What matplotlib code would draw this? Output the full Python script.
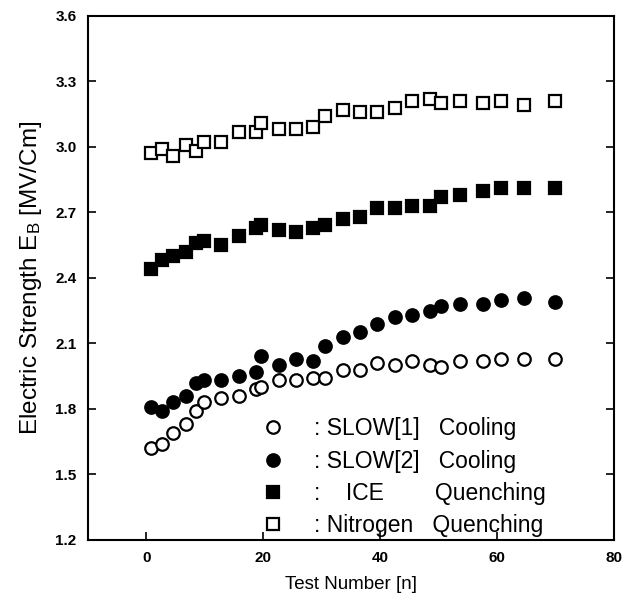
import matplotlib
matplotlib.use('Agg')
import matplotlib.pyplot as plt

plt.rcParams['font.family'] = ['Liberation Sans', 'DejaVu Sans']
plt.rcParams['mathtext.default'] = 'regular'

# Test numbers (shared by all four series)
test_n = [0.8, 2.7, 4.6, 6.8, 8.6, 9.8, 12.8, 15.8, 18.8, 19.7, 22.8, 25.6, 28.5,
          30.6, 33.6, 36.5, 39.5, 42.5, 45.5, 48.5, 50.5, 53.6, 57.6, 60.7, 64.7, 70.0]

slow1 = [1.62, 1.64, 1.69, 1.73, 1.79, 1.83, 1.85, 1.86, 1.89, 1.90, 1.93, 1.93, 1.94,
         1.94, 1.98, 1.98, 2.01, 2.00, 2.02, 2.00, 1.99, 2.02, 2.02, 2.03, 2.03, 2.03]
slow2 = [1.81, 1.79, 1.83, 1.86, 1.92, 1.93, 1.93, 1.95, 1.97, 2.04, 2.00, 2.03, 2.02,
         2.09, 2.13, 2.15, 2.19, 2.22, 2.23, 2.25, 2.27, 2.28, 2.28, 2.30, 2.31, 2.29]
ice = [2.44, 2.48, 2.50, 2.52, 2.56, 2.57, 2.55, 2.59, 2.63, 2.64, 2.62, 2.61, 2.63,
       2.64, 2.67, 2.68, 2.72, 2.72, 2.73, 2.73, 2.77, 2.78, 2.80, 2.81, 2.81, 2.81]
nitrogen = [2.97, 2.99, 2.96, 3.01, 2.98, 3.02, 3.02, 3.07, 3.07, 3.11, 3.08, 3.08, 3.09,
            3.14, 3.17, 3.16, 3.16, 3.18, 3.21, 3.22, 3.20, 3.21, 3.20, 3.21, 3.19, 3.21]

labels = [': SLOW[1]   Cooling', ': SLOW[2]   Cooling',
          ':    ICE        Quenching', ': Nitrogen   Quenching']

fig = plt.figure(figsize=(6.27, 6.08), dpi=100)
ax = fig.add_axes([0.140, 0.112, 0.839, 0.862])

mk = dict(linestyle='none', markersize=9, markeredgewidth=1.6, markeredgecolor='black')
ax.plot(test_n, slow1, marker='o', markerfacecolor='white', label=labels[0], **mk)
ax.plot(test_n, slow2, marker='o', markerfacecolor='black', label=labels[1], **mk)
ax.plot(test_n, ice, marker='s', markerfacecolor='black', label=labels[2], **mk)
ax.plot(test_n, nitrogen, marker='s', markerfacecolor='white', label=labels[3], **mk)

ax.set_xlim(-10, 80)
ax.set_ylim(1.2, 3.6)
ax.set_xticks([0, 20, 40, 60, 80])
ax.set_yticks([1.2, 1.5, 1.8, 2.1, 2.4, 2.7, 3.0, 3.3, 3.6])
ax.set_yticklabels(['1.2', '1.5', '1.8', '2.1', '2.4', '2.7', '3.0', '3.3', '3.6'])
ax.tick_params(direction='in', length=6, width=1.2, labelsize=11, right=True, pad=8)
for lab in ax.get_xticklabels() + ax.get_yticklabels():
    lab.set_fontweight('bold')
for sp in ax.spines.values():
    sp.set_linewidth(1.5)

ax.set_xlabel('Test Number [n]', fontsize=13.5, labelpad=8)
ax.set_ylabel('Electric Strength E$_{B}$ [MV/Cm]', fontsize=17.5, labelpad=8)

ax.legend(loc='lower left', bbox_to_anchor=(0.30, -0.025), frameon=False,
          fontsize=16.5, handletextpad=1.3, labelspacing=0.4, borderpad=0.2,
          handlelength=1.0)

fig.savefig('out.png', dpi=100)
